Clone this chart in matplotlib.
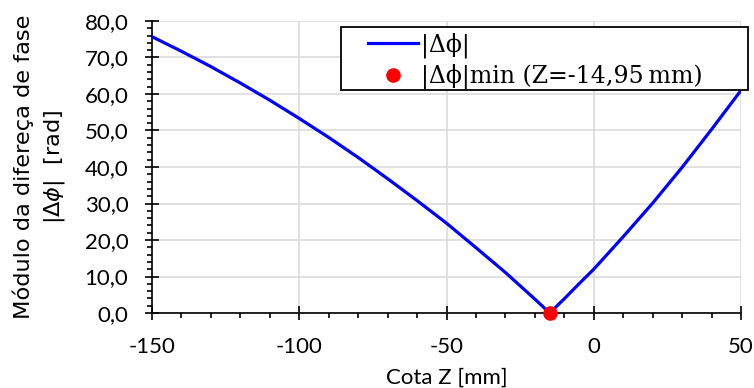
import matplotlib.pyplot as plt
from matplotlib.patches import Rectangle
from matplotlib.ticker import MultipleLocator, FuncFormatter

# |delta phi| vs Z
z = [-150, -140, -130, -120, -110, -100, -90, -80, -70, -60, -50,
     -40, -30, -20, -14.95, -10, -5, 0, 10, 20, 30, 40, 50]
dphi = [75.7, 71.7, 67.5, 63.0, 58.3, 53.3, 48.1, 42.6, 36.8, 30.8, 24.6,
        17.9, 11.1, 3.8, 0.0, 3.9, 8.0, 12.0, 20.9, 30.1, 39.9, 50.3, 61.0]
z_min = -14.95
dphi_min = 0.0

fig = plt.figure(figsize=(7.54, 3.88), dpi=100)
ax = fig.add_axes([152/754, 1-313/388, (741-152)/754, (313-21)/388])

ax.plot(z, dphi, color='#0000ff', lw=2.3, label='|Δϕ|', zorder=3)
ax.plot([z_min], [dphi_min], 'o', color='#ff0000', ms=9.5,
        label='|Δϕ|min (Z=-14,95\u2009mm)', zorder=4, clip_on=False)

ax.set_xlim(-150, 50)
ax.set_ylim(0, 80)
ax.xaxis.set_major_locator(MultipleLocator(50))
ax.xaxis.set_minor_locator(MultipleLocator(10))
ax.yaxis.set_major_locator(MultipleLocator(10))
ax.yaxis.set_minor_locator(MultipleLocator(2))
ax.yaxis.set_major_formatter(FuncFormatter(lambda v, p: f'{v:.1f}'.replace('.', ',')))
ax.xaxis.set_major_formatter(FuncFormatter(lambda v, p: f'{v:.0f}'))

ax.grid(True, which='major', color='#d9d9d9', lw=1.1)
ax.set_axisbelow(True)
for s in ['top', 'right']:
    ax.spines[s].set_visible(False)
ax.spines['left'].set_linewidth(1.2)
ax.spines['bottom'].set_linewidth(1.2)
ax.tick_params(which='major', direction='inout', length=10, width=1.2)
ax.tick_params(which='minor', direction='out', length=3.5, width=1.2)
ax.tick_params(axis='x', labelsize=16, pad=12)
ax.tick_params(axis='y', labelsize=16, pad=12)
for lab in ax.get_xticklabels() + ax.get_yticklabels():
    lab.set_family('Lato')

ax.set_xlabel('Cota Z [mm]', fontsize=16, family='Lato', labelpad=8)
ax.set_ylabel('Módulo da difereça de fase\n|$\\Delta\\phi$|  [rad]', fontsize=16.2,
              linespacing=1.45)
ax.yaxis.set_label_coords(-0.145, 0.5)

# legend box is a bit wider than the content, so draw the frame separately
leg = ax.legend(loc='upper left', bbox_to_anchor=(368/754, 1-32/388),
                bbox_transform=fig.transFigure, borderaxespad=0, borderpad=0,
                prop={'family': 'DejaVu Serif', 'size': 17},
                frameon=False, handlelength=2.12, handletextpad=0.13,
                labelspacing=0.27)
ax.add_patch(Rectangle((341/754, 1-90/388), (748-341)/754, 63/388,
                       transform=fig.transFigure, facecolor='white',
                       edgecolor='black', lw=1.3, zorder=4.5, clip_on=False))

fig.savefig('out.png', dpi=100)
